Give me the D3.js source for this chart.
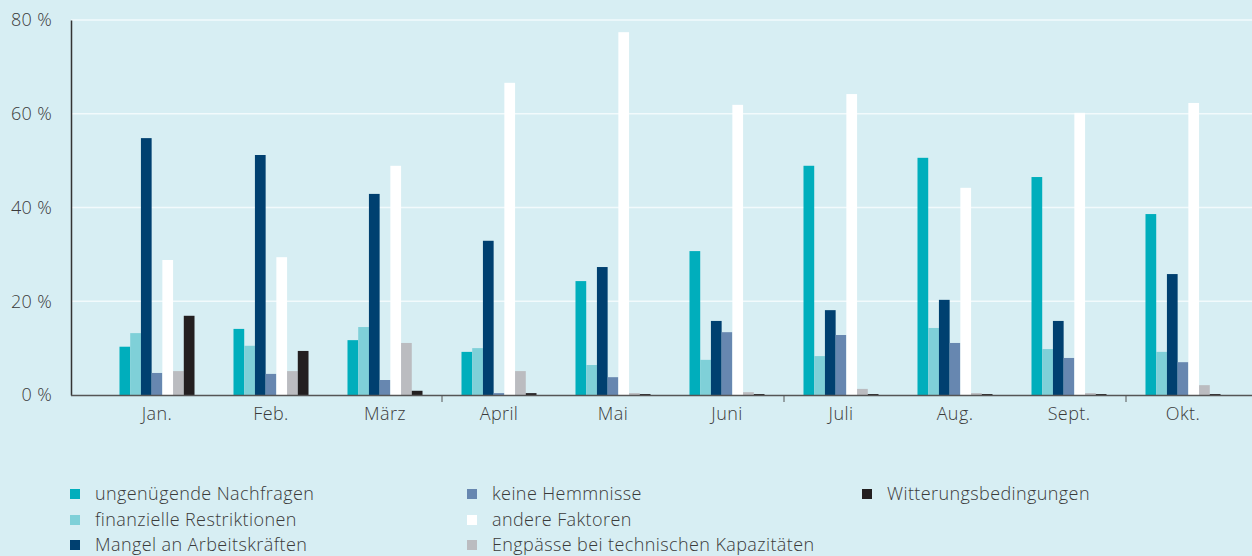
<!DOCTYPE html>
<html>
<head>
<meta charset="utf-8">
<script src="https://cdn.jsdelivr.net/npm/d3@7"></script>
<style>
  html, body { margin: 0; padding: 0; background: #d7eef3; }
  svg { display: block; font-family: "Open Sans", Lato, sans-serif; }
</style>
</head>
<body>
<svg id="chart"></svg>
<script>
var months = ["Jan.", "Feb.", "März", "April", "Mai", "Juni", "Juli", "Aug.", "Sept.", "Okt."];
var seriesNames = [
  "ungenügende Nachfragen",
  "finanzielle Restriktionen",
  "Mangel an Arbeitskräften",
  "keine Hemmnisse",
  "andere Faktoren",
  "Engpässe bei technischen Kapazitäten",
  "Witterungsbedingungen"
];
var nachfrage    = [10.3, 14.1, 11.7, 9.2, 24.3, 30.7, 48.9, 50.6, 46.5, 38.6];
var finanziell   = [13.2, 10.5, 14.5, 10.0, 6.4, 7.5, 8.3, 14.3, 9.8, 9.2];
var arbeit       = [54.8, 51.2, 42.9, 32.9, 27.3, 15.8, 18.1, 20.3, 15.8, 25.8];
var keine        = [4.7, 4.5, 3.2, 0.4, 3.8, 13.4, 12.8, 11.1, 7.9, 7.0];
var andere       = [28.8, 29.4, 48.9, 66.6, 77.4, 61.9, 64.2, 44.2, 60.2, 62.3];
var engpaesse    = [5.1, 5.1, 11.1, 5.1, 0.4, 0.6, 1.3, 0.4, 0.4, 2.1];
var witterung    = [16.9, 9.4, 0.9, 0.4, 0.2, 0.2, 0.2, 0.2, 0.2, 0.2];
var yTicks = [0, 20, 40, 60, 80];

var colors = ["#00aebc", "#7fd0d8", "#004070", "#6787b0", "#ffffff", "#bbbcc0", "#231f20"];
var allSeries = [nachfrage, finanziell, arbeit, keine, andere, engpaesse, witterung];

var width = 1252, height = 556;
var font = "'Open Sans', Lato, sans-serif";
var svg = d3.select("#chart").attr("width", width).attr("height", height);

svg.append("rect").attr("width", width).attr("height", height).attr("fill", "#d7eef3");

var y = d3.scaleLinear().domain([0, 80]).range([395, 20]);

var x0 = d3.scaleBand()
    .domain(months)
    .range([100, 1240])
    .paddingInner(0.342)
    .paddingOuter(0.171);

var xOuter = d3.scaleBand().domain(months).range([100, 1240]);

var x1 = d3.scaleBand()
    .domain(d3.range(seriesNames.length))
    .range([0, x0.bandwidth()]);

// gridlines
svg.append("g")
  .selectAll("line")
  .data(yTicks.slice(1))
  .enter().append("line")
  .attr("x1", 71).attr("x2", width)
  .attr("y1", function(d) { return y(d); })
  .attr("y2", function(d) { return y(d); })
  .attr("stroke", "#f2fafc")
  .attr("stroke-width", 1.5);

// bars
var groups = svg.append("g")
  .selectAll("g")
  .data(months)
  .enter().append("g")
  .attr("transform", function(d) { return "translate(" + x0(d) + ",0)"; });

groups.selectAll("rect")
  .data(function(d, i) {
    return allSeries.map(function(s, k) { return {k: k, v: s[i]}; });
  })
  .enter().append("rect")
  .attr("x", function(d) { return x1(d.k); })
  .attr("width", x1.bandwidth())
  .attr("y", function(d) { return y(d.v); })
  .attr("height", function(d) { return y(0) - y(d.v); })
  .attr("fill", function(d) { return colors[d.k]; });

// y axis
var leftAxis = d3.axisLeft(y)
  .tickValues(yTicks)
  .tickSize(0)
  .tickPadding(19)
  .tickFormat(function(d) { return d + " %"; });

var yg = svg.append("g").attr("transform", "translate(71,0)").call(leftAxis);
yg.select(".domain").attr("stroke", "#333").attr("stroke-width", 1.5);
yg.selectAll("text").attr("font-size", "18px").attr("fill", "#3a3a3a")
  .attr("font-weight", 300).attr("letter-spacing", "0.3px").attr("font-family", font);

// x axis line
svg.append("line")
  .attr("x1", 71).attr("x2", width)
  .attr("y1", 395.5).attr("y2", 395.5)
  .attr("stroke", "#555").attr("stroke-width", 1.5);

// quarter tick marks
svg.append("g")
  .selectAll("line")
  .data([2, 5, 8])
  .enter().append("line")
  .attr("x1", function(i) { return xOuter(months[i]) + xOuter.step(); })
  .attr("x2", function(i) { return xOuter(months[i]) + xOuter.step(); })
  .attr("y1", 395).attr("y2", 402)
  .attr("stroke", "#555").attr("stroke-width", 1);

var bottomAxis = d3.axisBottom(xOuter).tickSize(0).tickPadding(12);
var xg = svg.append("g").attr("transform", "translate(0,395)").call(bottomAxis);
xg.select(".domain").remove();
xg.selectAll("text").attr("font-size", "18px").attr("fill", "#3a3a3a")
  .attr("font-weight", 300).attr("letter-spacing", "0.4px").attr("font-family", font);

// legend
var legendCols = [70, 467, 862];
var legendRows = [494, 520, 545];
var legend = svg.append("g")
  .selectAll("g")
  .data(seriesNames)
  .enter().append("g")
  .attr("transform", function(d, i) {
    return "translate(" + legendCols[Math.floor(i / 3)] + "," + legendRows[i % 3] + ")";
  });

legend.append("rect")
  .attr("x", 0).attr("y", -5)
  .attr("width", 10).attr("height", 10)
  .attr("fill", function(d, i) { return colors[i]; });

legend.append("text")
  .attr("x", 25).attr("y", 0)
  .attr("dy", "0.35em")
  .attr("font-size", "18px")
  .attr("font-weight", 300)
  .attr("letter-spacing", "0.4px")
  .attr("fill", "#3a3a3a")
  .text(function(d) { return d; });
</script>
</body>
</html>
